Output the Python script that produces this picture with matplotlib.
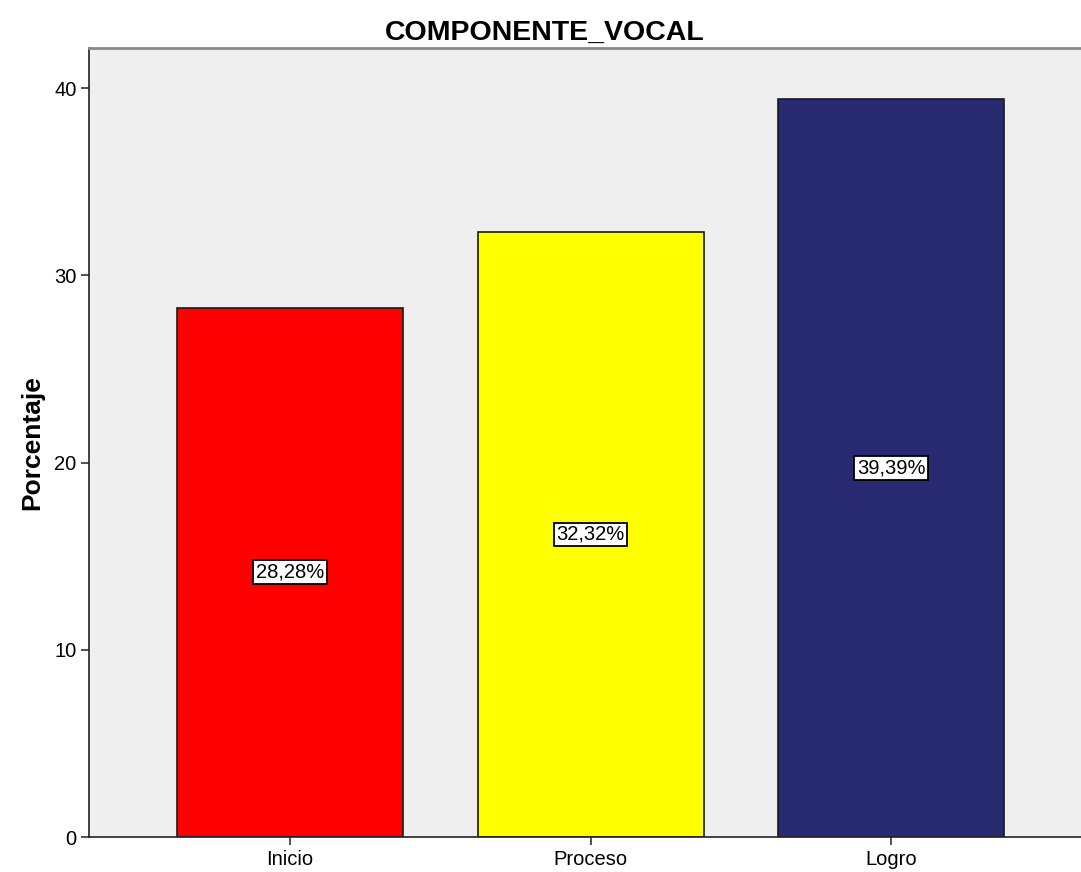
import numpy as np
import matplotlib.pyplot as plt

categorias = ['Inicio', 'Proceso', 'Logro']
porcentajes = [28.28, 32.32, 39.39]
etiquetas = ['28,28%', '32,32%', '39,39%']
colores = ['#FF0000', '#FFFF00', '#282A72']
yticks = [0, 10, 20, 30, 40]

plt.rcParams['font.family'] = ['Liberation Sans', 'DejaVu Sans']

fig = plt.figure(figsize=(10.81, 8.72), dpi=100)
ax = fig.add_axes([89 / 1081, 35 / 872, 1001 / 1081, 789 / 872])
ax.set_facecolor('#EFEFEF')

x = np.arange(len(categorias))
ax.bar(x, porcentajes, width=0.752, color=colores, edgecolor='#1a1a1a', linewidth=1.2, zorder=2)

for xi, val, txt in zip(x, porcentajes, etiquetas):
    ax.text(xi, val / 2, txt, ha='center', va='center', fontsize=14.5, zorder=3,
            bbox=dict(boxstyle='square,pad=0.12', facecolor='white', edgecolor='black', linewidth=1.3))

ax.set_xlim(-0.669, 2.662)
ax.set_ylim(0, 42.14)
ax.set_xticks(x)
ax.set_xticklabels(categorias, fontsize=14.5)
ax.set_yticks(yticks)
ax.set_yticklabels([str(t) for t in yticks], fontsize=14.5)
ax.tick_params(axis='both', direction='out', length=6, width=1.2, color='#333333', pad=3)

ax.spines['left'].set_color('#222222')
ax.spines['left'].set_linewidth(1.2)
ax.spines['bottom'].set_color('#222222')
ax.spines['bottom'].set_linewidth(1.2)
ax.spines['top'].set_color('#888888')
ax.spines['top'].set_linewidth(2)
ax.spines['right'].set_visible(False)

ax.set_ylabel('Porcentaje', fontsize=19, fontweight='bold', labelpad=7)
fig.text(545 / 1081, 1 - 33 / 872, 'COMPONENTE_VOCAL', ha='center', va='center',
         fontsize=20.5, fontweight='bold')

plt.savefig('out.png', dpi=100)
